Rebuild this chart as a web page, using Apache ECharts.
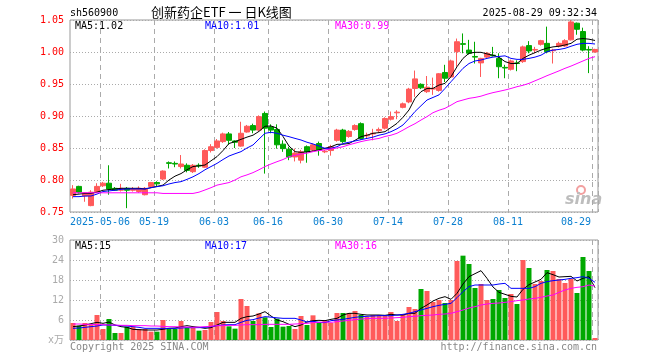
<!DOCTYPE html>
<html><head><meta charset="utf-8">
<script src="https://cdn.jsdelivr.net/npm/echarts@6/dist/echarts.min.js"></script>
<style>html,body{margin:0;padding:0;background:#fff}#c{width:660px;height:360px}</style>
</head><body><div id="c"></div>
<script>
const dates = ['2025-04-24','2025-04-25','2025-04-28','2025-04-29','2025-04-30',
'2025-05-06','2025-05-07','2025-05-08','2025-05-09','2025-05-12','2025-05-13','2025-05-14','2025-05-15','2025-05-16',
'2025-05-19','2025-05-20','2025-05-21','2025-05-22','2025-05-23','2025-05-26','2025-05-27','2025-05-28','2025-05-29','2025-05-30',
'2025-06-03','2025-06-04','2025-06-05','2025-06-06','2025-06-09','2025-06-10','2025-06-11','2025-06-12','2025-06-13',
'2025-06-16','2025-06-17','2025-06-18','2025-06-19','2025-06-20','2025-06-23','2025-06-24','2025-06-25','2025-06-26','2025-06-27',
'2025-06-30','2025-07-01','2025-07-02','2025-07-03','2025-07-04','2025-07-07','2025-07-08','2025-07-09','2025-07-10','2025-07-11',
'2025-07-14','2025-07-15','2025-07-16','2025-07-17','2025-07-18','2025-07-21','2025-07-22','2025-07-23','2025-07-24','2025-07-25',
'2025-07-28','2025-07-29','2025-07-30','2025-07-31','2025-08-01','2025-08-04','2025-08-05','2025-08-06','2025-08-07','2025-08-08',
'2025-08-11','2025-08-12','2025-08-13','2025-08-14','2025-08-15','2025-08-18','2025-08-19','2025-08-20','2025-08-21','2025-08-22',
'2025-08-25','2025-08-26','2025-08-27','2025-08-28','2025-08-29'];

const tickDates  = ['2025-05-06','2025-05-19','2025-06-03','2025-06-16','2025-06-30','2025-07-14','2025-07-28','2025-08-11','2025-08-29'];
const tickLabels = ['2025-05-06','05-19','06-03','06-16','06-30','07-14','07-28','08-11','08-29'];

const opens = [0.776,0.790,0.775,0.760,0.782,0.791,0.795,0.787,0.784,0.787,
0.784,0.782,0.777,0.790,0.796,0.8015,0.827,0.826,0.821,0.823,
0.813,0.823,0.820,0.846,0.851,0.860,0.872,0.861,0.853,0.875,
0.885,0.878,0.904,0.883,0.879,0.856,0.848,0.836,0.831,0.852,
0.847,0.857,0.844,0.846,0.862,0.878,0.868,0.879,0.888,0.869,
0.872,0.877,0.881,0.895,0.905,0.9135,0.922,0.943,0.9495,0.938,
0.942,0.940,0.968,0.961,1.0005,1.013,1.003,0.993,0.983,0.992,
0.995,0.990,0.976,0.973,0.983,0.985,1.010,1.003,1.012,1.0135,
1.002,1.009,1.0094,1.019,1.045,1.032,1.004,1.000];
const closes = [0.786,0.781,0.780,0.781,0.790,0.795,0.786,0.784,0.787,0.784,
0.786,0.787,0.787,0.796,0.794,0.814,0.826,0.825,0.825,0.815,
0.823,0.822,0.846,0.852,0.861,0.872,0.862,0.859,0.873,0.884,
0.878,0.899,0.881,0.878,0.855,0.849,0.836,0.842,0.844,0.844,
0.855,0.847,0.845,0.852,0.878,0.860,0.876,0.885,0.865,0.870,
0.873,0.879,0.896,0.899,0.906,0.919,0.942,0.958,0.944,0.945,
0.943,0.966,0.959,0.986,1.016,1.012,0.998,0.992,0.990,0.998,
0.994,0.977,0.975,0.986,0.982,1.008,1.0016,1.004,1.0177,1.0005,
1.003,1.0135,1.0177,1.047,1.0355,1.003,1.003,1.004];
const lows = [0.771,0.779,0.766,0.759,0.780,0.789,0.777,0.783,0.782,0.756,
0.782,0.780,0.776,0.788,0.789,0.800,0.818,0.820,0.818,0.812,
0.811,0.819,0.819,0.843,0.849,0.858,0.855,0.850,0.852,0.874,
0.873,0.876,0.810,0.873,0.849,0.844,0.831,0.829,0.826,0.827,
0.845,0.838,0.842,0.838,0.860,0.858,0.866,0.877,0.863,0.865,
0.862,0.874,0.879,0.893,0.895,0.912,0.920,0.930,0.942,0.936,
0.933,0.938,0.953,0.960,0.977,0.998,0.996,0.982,0.961,0.990,
0.993,0.959,0.959,0.971,0.970,0.983,0.998,0.998,1.010,0.998,
0.982,1.007,1.008,1.018,1.027,1.001,0.967,0.999];
const highs = [0.792,0.791,0.781,0.784,0.795,0.797,0.823,0.789,0.794,0.789,
0.789,0.790,0.789,0.797,0.798,0.815,0.829,0.829,0.839,0.826,
0.825,0.826,0.848,0.856,0.864,0.874,0.875,0.862,0.891,0.886,
0.888,0.901,0.907,0.887,0.887,0.862,0.852,0.849,0.847,0.854,
0.857,0.860,0.847,0.855,0.880,0.880,0.878,0.887,0.890,0.874,
0.880,0.882,0.898,0.907,0.909,0.921,0.944,0.971,0.951,0.9625,
0.960,0.967,0.980,0.988,1.021,1.029,1.019,1.016,0.991,1.000,
1.008,0.998,0.980,0.988,0.987,1.010,1.017,1.008,1.019,1.0396,
1.005,1.016,1.020,1.050,1.046,1.038,1.009,1.005];

const ma5 = [0.777,0.778,0.779,0.779,0.781,0.784,0.785,0.786,0.787,0.787,
0.787,0.787,0.786,0.788,0.790,0.792,0.800,0.806,0.810,0.816,
0.821,0.822,0.8234,0.830,0.8365,0.846,0.857,0.860,0.8635,0.867,
0.870,0.876,0.884,0.8844,0.881,0.868,0.853,0.8443,0.8432,0.844,
0.8453,0.847,0.8495,0.852,0.8557,0.856,0.857,0.862,0.8677,0.870,
0.873,0.874,0.8755,0.882,0.8885,0.898,0.9094,0.9276,0.938,0.943,
0.9432,0.9484,0.951,0.9615,0.977,0.990,0.998,0.9995,0.9995,0.997,
0.995,0.9917,0.985,0.982,0.982,0.990,0.995,0.999,1.003,1.006,
1.008,1.009,1.011,1.0135,1.020,1.021,1.020,1.018];
const ma10 = [0.774,0.774,0.775,0.775,0.778,0.782,0.783,0.784,0.7854,0.786,
0.786,0.786,0.786,0.788,0.7896,0.791,0.7938,0.796,0.7974,0.801,
0.805,0.810,0.816,0.821,0.826,0.832,0.8375,0.841,0.8443,0.850,
0.8547,0.864,0.873,0.8745,0.873,0.870,0.8677,0.865,0.8625,0.859,
0.8563,0.853,0.8495,0.8495,0.852,0.857,0.859,0.861,0.863,0.865,
0.867,0.870,0.872,0.8755,0.880,0.886,0.896,0.907,0.916,0.925,
0.929,0.933,0.943,0.9536,0.964,0.9745,0.982,0.986,0.9875,0.990,
0.992,0.993,0.994,0.990,0.9885,0.9885,0.990,0.992,0.995,1.0005,
1.003,1.004,1.0057,1.009,1.012,1.0135,1.0135,1.0125];
const ma30 = [0.780,0.780,0.780,0.780,0.780,0.780,0.780,0.780,0.780,0.780,
0.780,0.780,0.780,0.780,0.780,0.779,0.779,0.779,0.779,0.779,
0.779,0.781,0.7844,0.788,0.792,0.794,0.796,0.800,0.805,0.808,
0.8115,0.816,0.821,0.825,0.8286,0.832,0.8365,0.8385,0.8406,0.842,
0.8443,0.846,0.847,0.8485,0.850,0.852,0.855,0.8575,0.860,0.862,
0.8635,0.865,0.868,0.870,0.873,0.878,0.8833,0.888,0.8937,0.899,
0.9052,0.909,0.912,0.917,0.9224,0.925,0.9276,0.929,0.931,0.934,
0.9365,0.9385,0.9406,0.943,0.9458,0.948,0.951,0.955,0.9589,0.963,
0.9667,0.9705,0.9745,0.978,0.982,0.986,0.990,0.9927];

const vol = [5.1,4.3,5.1,4.7,7.5,3.3,6.3,2.1,2.1,4.0,
4.0,3.3,3.3,2.5,2.5,6.0,3.3,3.3,5.7,3.7,
3.7,2.8,3.0,5.4,8.4,5.7,4.1,3.4,12.3,10.2,
5.7,8.0,6.8,3.9,6.4,4.0,4.2,3.3,7.2,4.5,
7.4,5.3,5.9,5.1,8.1,8.1,8.1,8.7,7.5,6.9,
7.5,7.5,7.5,8.4,5.7,7.8,9.9,9.3,15.3,14.7,
11.4,12.0,11.1,12.0,23.7,25.3,22.8,15.6,16.8,12.0,
12.3,15.0,12.6,13.8,10.8,24.0,21.6,16.8,17.7,21.0,
20.7,18.3,17.1,18.3,14.1,24.9,20.7,0.6];
const vma5 = [4.0,4.2,4.5,4.9,5.3,5.0,5.4,4.5,4.0,3.8,
3.2,3.1,3.0,3.0,3.0,3.2,3.5,3.6,4.0,4.3,
4.0,3.8,3.5,3.7,4.5,5.3,5.3,5.3,6.5,7.0,
7.2,7.8,8.5,7.2,6.0,5.5,4.7,4.0,4.5,5.4,
5.8,5.9,5.8,6.2,6.5,7.5,8.0,8.0,7.7,7.5,
7.5,7.5,7.4,7.7,7.5,7.5,8.0,8.0,9.5,10.5,
11.7,12.5,13.0,12.2,14.0,16.8,19.0,19.9,20.8,18.5,
15.9,14.3,13.7,13.1,12.9,15.2,16.6,17.4,18.2,20.2,
19.6,18.9,19.0,19.1,17.7,18.5,19.0,15.7];
const vma10 = [3.5,3.6,3.8,4.0,4.2,4.5,4.5,4.4,4.3,4.2,
4.0,3.8,3.5,3.5,3.5,3.5,3.5,3.5,3.6,3.7,
3.7,3.7,3.8,4.0,4.3,4.5,4.6,4.6,5.3,5.9,
6.1,6.6,7.0,6.85,6.65,6.5,6.5,6.5,6.0,5.4,
5.6,5.3,5.2,5.8,6.0,6.2,6.5,6.8,7.0,7.1,
7.2,7.3,7.3,7.3,7.5,7.7,8.0,8.5,9.0,9.5,
10.0,10.4,10.7,11.0,12.7,14.5,16.0,16.5,16.5,16.5,
16.5,16.8,17.0,15.5,15.5,15.5,15.5,16.0,17.0,17.5,
17.8,18.0,18.2,18.5,18.7,19.0,18.5,17.3];
const vma30 = [4.8,4.8,4.7,4.7,4.6,4.6,4.5,4.5,4.4,4.4,
4.3,4.3,4.3,4.2,4.2,4.1,4.0,4.0,3.9,3.9,
3.8,3.9,4.0,4.1,4.3,4.3,4.4,4.4,4.5,4.6,
4.6,4.6,4.7,4.7,4.7,4.7,4.7,4.8,4.9,5.0,
5.2,5.3,5.4,5.3,5.5,5.7,5.9,6.1,6.3,6.4,
6.5,6.5,6.5,6.6,6.7,6.8,7.0,7.1,7.3,7.4,
7.5,7.7,7.8,8.0,8.5,9.0,9.6,10.0,10.5,10.8,
11.0,11.1,11.3,11.5,11.8,12.0,12.3,12.5,12.8,13.2,
13.5,14.3,15.0,15.5,15.8,16.0,16.5,16.2];

const RED = '#ff5a5a', GREEN = '#00a800';
const FONT = '"DejaVu Sans Mono", "Noto Sans CJK SC", monospace';
const GRIDC = '#aaaaaa';

const chart = echarts.init(document.getElementById('c'), null, {renderer: 'canvas', width: 660, height: 360});

const isTick = (i, v) => tickDates.indexOf(v !== undefined ? v : dates[i]) >= 0;

function xAxisCommon(gi, showLabels) {
  return {
    type: 'category', gridIndex: gi, data: dates, boundaryGap: true,
    axisLine: {show: false}, axisTick: {show: false},
    axisLabel: {
      show: showLabels,
      interval: (i, v) => isTick(i, v),
      hideOverlap: false,
      color: '#0a7fd0', fontFamily: FONT, fontSize: 10, margin: 5,
      formatter: (v) => {
        const k = tickDates.indexOf(v);
        if (k < 0) return '';
        return (k === tickDates.length - 1 ? '{e|' : '{a|') + tickLabels[k] + '}';
      },
      rich: {
        a: {fontFamily: FONT, fontSize: 10, color: '#0a7fd0', padding: [0, 6, 0, 0]},
        e: {fontFamily: FONT, fontSize: 10, color: '#0a7fd0', padding: [0, 38, 0, 0]}
      }
    },
    splitLine: {show: true, interval: (i, v) => isTick(i, v), lineStyle: {color: GRIDC, type: [5, 4], width: 1}}
  };
}

function lineS(data, color, xi, yi) {
  return {type: 'line', data: data, xAxisIndex: xi, yAxisIndex: yi, symbol: 'none', silent: true,
    lineStyle: {color: color, width: 1}, itemStyle: {color: color}, z: 5};
}

function txt(x, y, text, color, opts) {
  return {type: 'text', x: x, y: y, silent: true,
    style: Object.assign({text: text, fill: color, font: '10px ' + FONT, textVerticalAlign: 'middle'}, (opts || {}))};
}

const option = {
  animation: false,
  backgroundColor: '#ffffff',
  grid: [
    {left: 70, top: 20, width: 528, height: 192, show: true, borderColor: '#999', borderWidth: 1, backgroundColor: 'transparent'},
    {left: 70, top: 240, width: 528, height: 100, show: true, borderColor: '#999', borderWidth: 1, backgroundColor: 'transparent'}
  ],
  xAxis: [xAxisCommon(0, true), xAxisCommon(1, false)],
  yAxis: [
    {type: 'value', gridIndex: 0, min: 0.75, max: 1.05, interval: 0.05, scale: true,
      axisLine: {show: false}, axisTick: {show: false},
      axisLabel: {color: '#ff0000', fontFamily: FONT, fontSize: 10, margin: 6, formatter: v => v.toFixed(2)},
      splitLine: {show: true, lineStyle: {color: GRIDC, type: [1, 2]}}},
    {type: 'value', gridIndex: 1, min: 0, max: 30, interval: 6,
      axisLine: {show: false}, axisTick: {show: false},
      axisLabel: {color: '#aaaaaa', fontFamily: FONT, fontSize: 10, margin: 6, formatter: v => v === 0 ? 'x万' : String(v)},
      splitLine: {show: true, lineStyle: {color: GRIDC, type: [1, 2]}}}
  ],
  series: [
    {type: 'candlestick', xAxisIndex: 0, yAxisIndex: 0, barWidth: 5, silent: true,
      data: opens.map((o, i) => [o, closes[i], lows[i], highs[i]]),
      itemStyle: {color: RED, color0: GREEN, borderColor: RED, borderColor0: GREEN, borderWidth: 1}, z: 3},
    lineS(ma5, '#000000', 0, 0),
    lineS(ma10, '#0000ff', 0, 0),
    lineS(ma30, '#ff00ff', 0, 0),
    {type: 'bar', xAxisIndex: 1, yAxisIndex: 1, barWidth: 5, silent: true, z: 3,
      data: vol.map((v, i) => ({value: v, itemStyle: {color: closes[i] >= opens[i] ? RED : GREEN}}))},
    lineS(vma5, '#000000', 1, 1),
    lineS(vma10, '#0000ff', 1, 1),
    lineS(vma30, '#ff00ff', 1, 1)
  ],
  graphic: [
    txt(70, 13, 'sh560900', '#000'),
    txt(151, 12, '创新药企ETF 一 日K线图', '#000', {font: '13px "Noto Sans CJK SC", sans-serif'}),
    txt(597, 13, '2025-08-29 09:32:34', '#000', {textAlign: 'right'}),
    txt(75, 26, 'MA5:' + ma5[ma5.length - 1].toFixed(2), '#000'),
    txt(205, 26, 'MA10:' + ma10[ma10.length - 1].toFixed(2), '#0000ff'),
    txt(335, 26, 'MA30:' + ma30[ma30.length - 1].toFixed(2), '#ff00ff'),
    txt(75, 246, 'MA5:' + Math.floor(vma5[vma5.length - 1]), '#000'),
    txt(205, 246, 'MA10:' + Math.floor(vma10[vma10.length - 1]), '#0000ff'),
    txt(335, 246, 'MA30:' + Math.floor(vma30[vma30.length - 1]), '#ff00ff'),
    txt(70, 347, 'Copyright 2025 SINA.COM', '#888'),
    txt(597, 347, 'http://finance.sina.com.cn', '#888', {textAlign: 'right'}),
    {type: 'circle', silent: true, shape: {cx: 581, cy: 190, r: 4}, style: {fill: 'none', stroke: '#f2a0a0', lineWidth: 2}},
    txt(565, 200, 'sina', '#bdbdbd', {font: 'italic bold 16px "DejaVu Sans", sans-serif'})
  ]
};
chart.setOption(option);
</script></body></html>
